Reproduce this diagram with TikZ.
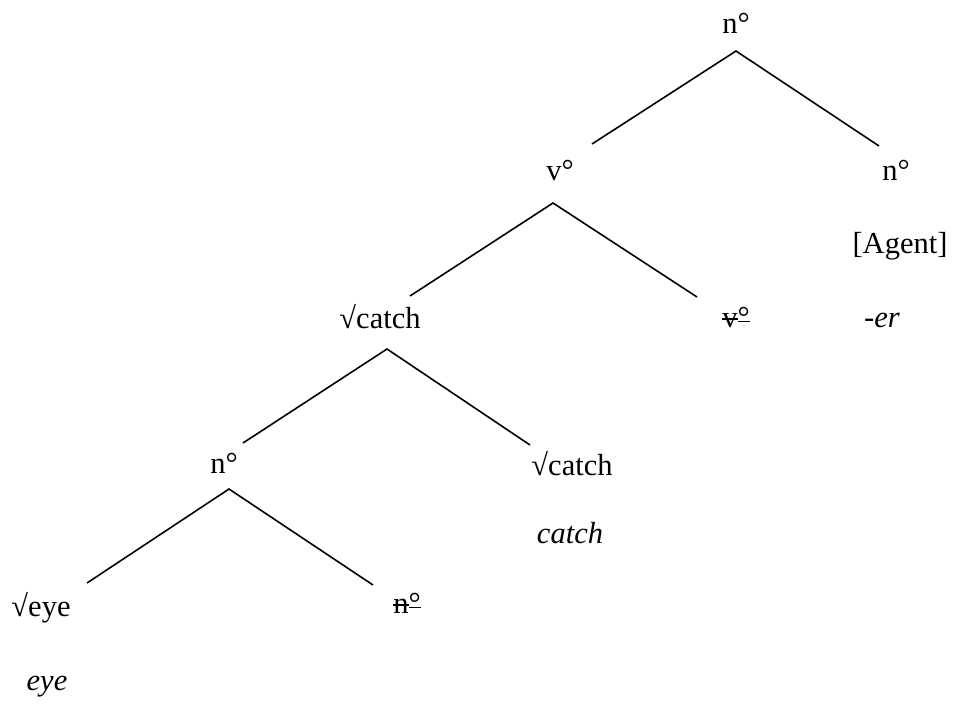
\documentclass[tikz,border=0pt]{standalone}
\usepackage{fontspec}
\setmainfont{Liberation Serif}
\newcommand\strk[2]{\setbox0\hbox{#1}\setbox2\hbox{#2}\rlap{\rule[0.24em]{\wd0}{0.05em}}\box0\rlap{\rule[0.15em]{\wd2}{0.05em}}\box2}
\begin{document}
\begin{tikzpicture}[x=1pt,y=-1pt,
  lbl/.style={anchor=base,inner sep=0pt,font=\fontsize{30.5}{36}\selectfont},
  branch/.style={line width=1.6pt,line cap=butt,line join=miter}]
\useasboundingbox (0,0) rectangle (958,707);
% labels
\node[lbl] (n0) at (736,33) {n°};
\node[lbl] (v0) at (560,180) {v°};
\node[lbl] (n1) at (896,180) {n°};
\node[lbl] (agent) at (900,253) {[Agent]};
\node[lbl] (rc1) at (380,328) {√catch};
\node[lbl] (vt) at (736,327) {\strk{v}{°}};
\node[lbl] (er) at (882,327) {\itshape -er};
\node[lbl] (n2) at (224,473) {n°};
\node[lbl] (rc2) at (572,475) {√catch};
\node[lbl] (catch) at (570,543) {\itshape catch};
\node[lbl] (reye) at (41,616) {√eye};
\node[lbl] (nt) at (407,613) {\strk{n}{°}};
\node[lbl] (eye) at (47,690) {\itshape eye};
% branch points
\coordinate (a0) at (736,51);
\coordinate (a0l) at (592,144);
\coordinate (a0r) at (879,146);
\coordinate (a1) at (553,203);
\coordinate (a1l) at (410,296);
\coordinate (a1r) at (697,297);
\coordinate (a2) at (387,349);
\coordinate (a2l) at (243,443);
\coordinate (a2r) at (530,445);
\coordinate (a3) at (229,489);
\coordinate (a3l) at (87,583);
\coordinate (a3r) at (373,585);
% branches
\draw[branch] (a0l) -- (a0) -- (a0r);
\draw[branch] (a1l) -- (a1) -- (a1r);
\draw[branch] (a2l) -- (a2) -- (a2r);
\draw[branch] (a3l) -- (a3) -- (a3r);
\end{tikzpicture}
\end{document}
